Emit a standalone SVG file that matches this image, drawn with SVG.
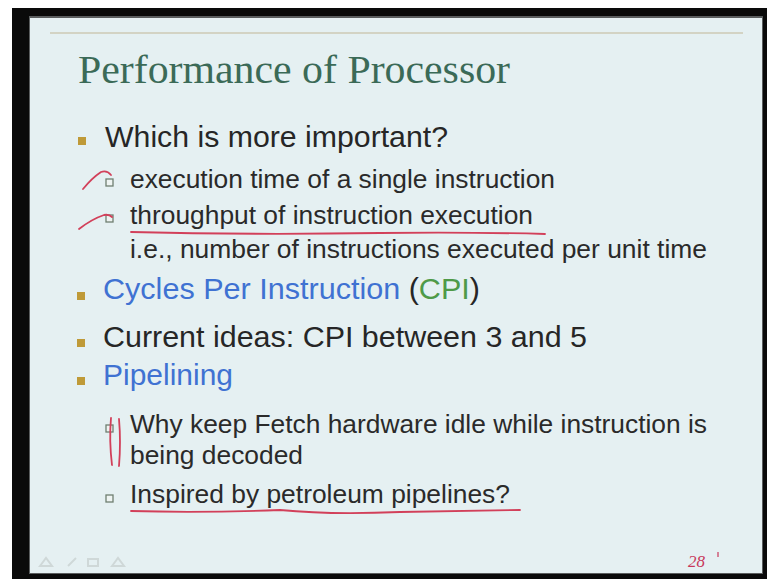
<svg xmlns="http://www.w3.org/2000/svg" width="767" height="579" viewBox="0 0 767 579">
<style>
.main{font-family:"Liberation Sans",Arial,sans-serif;font-size:30px;fill:#262626}
.sub{font-family:"Liberation Sans",Arial,sans-serif;font-size:26px;fill:#2a2a2a}
.title{font-family:"Liberation Serif","Times New Roman",serif;font-size:40px;fill:#3b6a57}
.blue{fill:#3f72d2}
.green{fill:#4f9a48}
.bul{fill:#bf9a38}
.sb{fill:#eef4f2;stroke:#6f7f70;stroke-width:1.3}
.ink{fill:none;stroke:#d2405a;stroke-width:1.8;stroke-linecap:round;stroke-linejoin:round}
.nav{fill:none;stroke:#cfd8d8;stroke-width:2}
</style>
<rect x="0" y="0" width="767" height="579" fill="#ffffff"/>
<rect x="12" y="8" width="755" height="571" fill="#0a0a0a"/>
<rect x="29" y="16" width="734" height="558" fill="#5a5d5e"/>
<rect x="30" y="18" width="732" height="555" fill="#e5f0f2"/>
<line x1="50" y1="33" x2="743" y2="33" stroke="#d3d3c4" stroke-width="2"/>

<g id="title">
<text class="title" x="78" y="83" textLength="432" lengthAdjust="spacingAndGlyphs">Performance of Processor</text>
</g>

<g id="item1">
<rect class="bul" x="78" y="137" width="8" height="8"/>
<text class="main" x="105" y="147" textLength="343" lengthAdjust="spacingAndGlyphs">Which is more important?</text>
</g>
<g id="item1a">
<rect class="sb" x="106" y="179" width="7" height="7"/>
<text class="sub" x="130" y="188" textLength="425" lengthAdjust="spacingAndGlyphs">execution time of a single instruction</text>
</g>
<g id="item1b">
<rect class="sb" x="106" y="215" width="7" height="7"/>
<text class="sub" x="130" y="224" textLength="403" lengthAdjust="spacingAndGlyphs">throughput of instruction execution</text>
<text class="sub" x="130" y="258" textLength="577" lengthAdjust="spacingAndGlyphs">i.e., number of instructions executed per unit time</text>
</g>
<g id="item2">
<rect class="bul" x="77" y="292" width="8" height="8"/>
<text class="main" x="103" y="299" textLength="377" lengthAdjust="spacingAndGlyphs"><tspan class="blue">Cycles Per Instruction</tspan> (<tspan class="green">CPI</tspan>)</text>
</g>
<g id="item3">
<rect class="bul" x="77" y="339" width="8" height="8"/>
<text class="main" x="103" y="347" textLength="484" lengthAdjust="spacingAndGlyphs">Current ideas: CPI between 3 and 5</text>
</g>
<g id="item4">
<rect class="bul" x="77" y="377" width="8" height="8"/>
<text class="main blue" x="103" y="385" textLength="130" lengthAdjust="spacingAndGlyphs">Pipelining</text>
</g>
<g id="item4a">
<rect class="sb" x="106" y="425" width="7" height="7"/>
<text class="sub" x="130" y="433" textLength="577" lengthAdjust="spacingAndGlyphs">Why keep Fetch hardware idle while instruction is</text>
<text class="sub" x="130" y="464" textLength="173" lengthAdjust="spacingAndGlyphs">being decoded</text>
</g>
<g id="item4b">
<rect class="sb" x="106" y="495" width="7" height="7"/>
<text class="sub" x="130" y="503" textLength="380" lengthAdjust="spacingAndGlyphs">Inspired by petroleum pipelines?</text>
</g>

<g id="annotations">
<path class="ink" d="M83 189 Q92 178 101 172 Q107 170 111 175"/>
<path class="ink" d="M79 229 Q92 219 104 215 Q109 214 112 217"/>
<path class="ink" d="M131 232 Q250 235 380 233 Q470 232 545 234"/>
<path class="ink" d="M111 418 Q109 440 112 465"/>
<path class="ink" d="M119 419 Q121 442 119 466"/>
<path class="ink" d="M131 511 Q200 513 280 510 Q330 515 400 512 Q470 511 520 510"/>
<text x="688" y="567" font-family="Liberation Serif, serif" font-style="italic" font-size="17" fill="#c8385a">28</text>
<line x1="718" y1="552" x2="718" y2="557" stroke="#c8385a" stroke-width="1.2"/>
</g>

<g id="nav">
<path class="nav" d="M40 566 L46 558 L52 566 Z"/>
<path class="nav" d="M68 566 L76 558"/>
<rect class="nav" x="88" y="559" width="10" height="7"/>
<path class="nav" d="M112 566 L118 558 L124 566 Z"/>
</g>
</svg>
